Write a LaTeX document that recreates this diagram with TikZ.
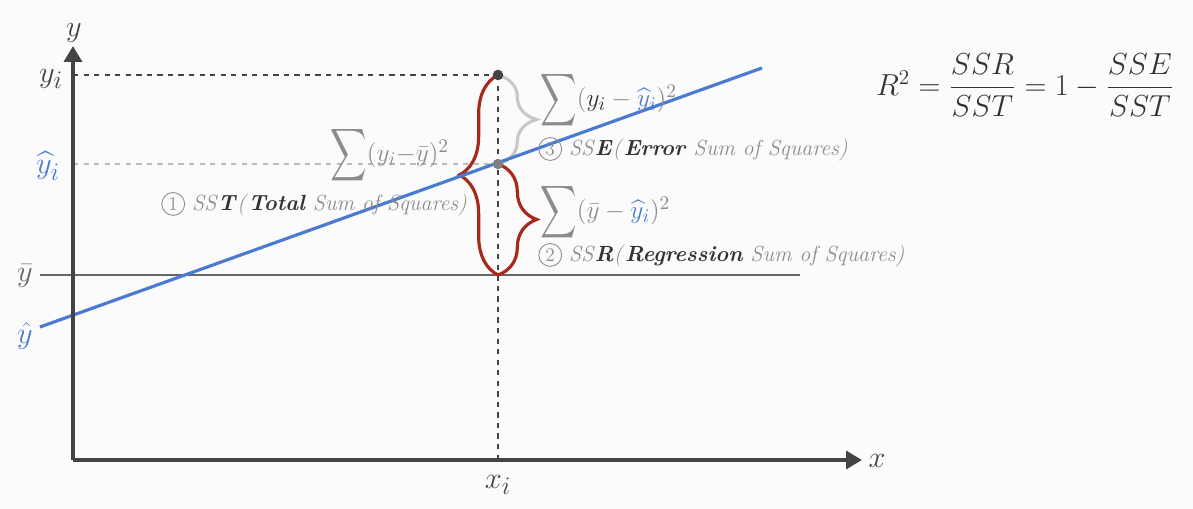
\documentclass[tikz,border=0pt]{standalone}
\usepackage{fontspec}
\usepackage{amsmath}
\usepackage{graphicx}
\usetikzlibrary{decorations.pathreplacing,arrows.meta}
\definecolor{bgc}{HTML}{FBFBFB}
\definecolor{axisc}{HTML}{444444}
\definecolor{meanc}{HTML}{666666}
\definecolor{bluec}{HTML}{4A7BD0}
\definecolor{redc}{HTML}{A8281C}
\definecolor{txtg}{HTML}{8C8C8C}
\definecolor{darkc}{HTML}{333333}
\definecolor{braceg}{HTML}{C8C8C8}
\definecolor{dashg}{HTML}{BBBBBB}
\newcommand{\circnum}[1]{\tikz[baseline=(cn.base)]\node[circle,draw=txtg,line width=0.5pt,inner sep=0.8pt,minimum size=13pt,text=txtg,font=\fontsize{11}{12}\selectfont] (cn) {#1};}
\newcommand{\bigsum}{\mathop{\vcenter{\hbox{\scalebox{1}[1.45]{$\displaystyle\sum$}}}}}
\begin{document}
\begin{tikzpicture}[x=0.02cm,y=-0.02cm,
  axis/.style={draw=axisc,line width=2.8pt,-{Triangle[length=9pt,width=10pt]}},
  axlabel/.style={font=\fontsize{19}{22}\selectfont,text=axisc,inner sep=0pt},
  sumlabel/.style={font=\fontsize{15.5}{18}\selectfont,text=txtg,inner sep=0pt},
  sslabel/.style={font=\fontsize{12.5}{15}\selectfont,text=txtg,inner sep=0pt},
  bracedec/.style={line width=1.8pt,decorate,decoration={brace,amplitude=#1}},
  dot/.style={circle,inner sep=0pt,minimum size=6pt}
]
\fill[bgc] (0,0) rectangle (1193,509);
\useasboundingbox (0,0) rectangle (1193,509);

% coordinates
\coordinate (O) at (73,460);
\coordinate (xend) at (862,460);
\coordinate (yend) at (73,46);
\coordinate (yiL) at (73,75);
\coordinate (yhiL) at (73,164);
\coordinate (yi) at (498,75);
\coordinate (yhi) at (498,164);
\coordinate (ybarX) at (498,275);
\coordinate (xi) at (498,460);
\coordinate (meanA) at (40,275);
\coordinate (meanB) at (800,275);
\coordinate (regA) at (40,327);
\coordinate (regB) at (762,68);

% guide lines
\draw[dashg,dashed,line width=0.9pt] (yhiL) -- (yhi);
\draw[axisc,dashed,line width=0.9pt] (yiL) -- (yi);
\draw[axisc,dashed,line width=0.9pt] (yi) -- (xi);

% mean line
\draw[meanc,line width=1.7pt] (meanA) -- (meanB);

% braces
\draw[redc,bracedec=22pt] (ybarX) -- (yi);
\draw[redc,bracedec=22pt] (yhi) -- (ybarX);
\draw[braceg,bracedec=22pt] (yi) -- (yhi);

% regression line
\draw[bluec,line width=1.8pt] (regA) -- (regB);

% axes
\draw[axis] (O) -- (xend);
\draw[axis] (O) -- (yend);

% dots
\node[dot,fill=axisc] (dyi) at (yi) {};
\node[dot,fill=gray] (dyhi) at (yhi) {};

% axis labels
\node[axlabel] (lx) at (877,461) {$x$};
\node[axlabel] (ly) at (74,33) {$y$};
\node[axlabel] (lyi) at (51,79) {$y_i$};
\node[axlabel,text=bluec] (lyhi) at (48,166) {$\widehat{y}_i$};
\node[axlabel,text=meanc] (lybar) at (25,276) {$\bar{y}$};
\node[axlabel,text=bluec] (lyhat) at (25,336) {$\hat{y}$};
\node[axlabel] (lxi) at (498,485) {$x_i$};

% sum labels
\node[sumlabel,anchor=west] (sst) at (330,155) {$\bigsum(y_i{-}\bar{y})^2$};
\node[sslabel,anchor=west] (sstt) at (161,204) {\circnum{1} \textit{SS}\textcolor{darkc}{\textbf{\textit{T}}}\textit{(}\textcolor{darkc}{\textbf{\textit{Total}}} \textit{Sum of Squares)}};
\node[sumlabel,anchor=west] (sse) at (540,100) {$\bigsum(\textcolor{darkc}{y_i} - \textcolor{bluec}{\widehat{y}_i})^2$};
\node[sslabel,anchor=west] (sset) at (538,149) {\circnum{3} \textit{SS}\textcolor{darkc}{\textbf{\textit{E}}}\textit{(}\textcolor{darkc}{\textbf{\textit{Error}}} \textit{Sum of Squares)}};
\node[sumlabel,anchor=west] (ssr) at (540,212) {$\bigsum(\bar{y} - \textcolor{bluec}{\widehat{y}_i})^2$};
\node[sslabel,anchor=west] (ssrt) at (538,255) {\circnum{2} \textit{SS}\textcolor{darkc}{\textbf{\textit{R}}}\textit{(}\textcolor{darkc}{\textbf{\textit{Regression}}} \textit{Sum of Squares)}};

% formula
\node[font=\fontsize{18}{21}\selectfont,text=darkc,inner sep=0pt] (formula) at (1025,85) {$R^2=\dfrac{SSR}{SST}=1-\dfrac{SSE}{SST}$};
\end{tikzpicture}
\end{document}
